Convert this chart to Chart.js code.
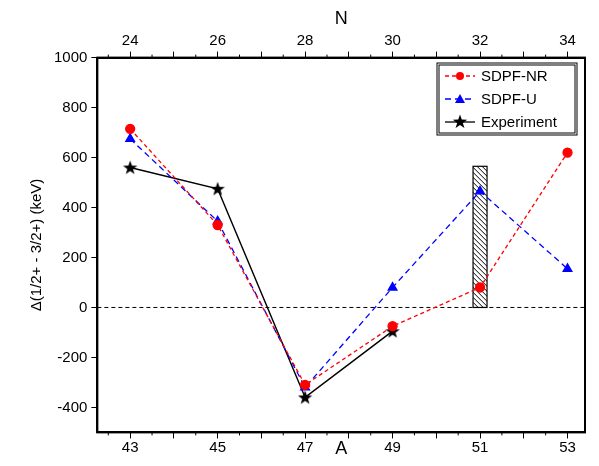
<!DOCTYPE html>
<html>
<head>
<meta charset="utf-8">
<script src="https://cdn.jsdelivr.net/npm/chart.js@4.4.0/dist/chart.umd.min.js"></script>
<style>
  html, body { margin: 0; padding: 0; background: #fff; }
  #wrap { width: 599px; height: 466px; }
</style>
</head>
<body>
<div id="wrap"><canvas id="c"></canvas></div>
<script>
const massNumbers = [43, 45, 47, 49, 51, 53];
const sdpfNR = [715, 330, -310, -75, 80, 620];
const sdpfU = [675, 345, -320, 80, 465, 155];
const experiment = [560, 475, -360, -95];
const yTicks = [-400, -200, 0, 200, 400, 600, 800, 1000];
const hatchA = 51;
const hatchRange = [0, 565];

const pts = (xs, ys) => ys.map((y, i) => ({ x: xs[i], y }));

function starPath(ctx, mx, cy, R, r) {
  ctx.beginPath();
  for (let k = 0; k < 10; k++) {
    const rr = k % 2 ? r : R, ang = -Math.PI / 2 + k * Math.PI / 5;
    ctx.lineTo(mx + rr * Math.cos(ang), cy + rr * Math.sin(ang));
  }
  ctx.closePath();
}

const starImg = document.createElement('canvas');
starImg.width = 16; starImg.height = 16;
(() => { const c = starImg.getContext('2d'); c.fillStyle = '#000'; starPath(c, 8, 8.5, 7.5, 3); c.fill(); })();

const frame = {
  id: 'frame',
  beforeDatasetsDraw(chart) {
    const { ctx, scales: { x, y } } = chart;
    const x0 = x.getPixelForValue(hatchA - 0.16), x1 = x.getPixelForValue(hatchA + 0.16);
    const y0 = y.getPixelForValue(hatchRange[1]), y1 = y.getPixelForValue(hatchRange[0]);
    ctx.save();
    ctx.beginPath(); ctx.rect(x0, y0, x1 - x0, y1 - y0); ctx.clip();
    ctx.strokeStyle = '#000'; ctx.lineWidth = 1;
    for (let k = y0 - (x1 - x0); k < y1 + 20; k += 5) {
      ctx.beginPath(); ctx.moveTo(x0, k); ctx.lineTo(x1, k + (x1 - x0)); ctx.stroke();
    }
    ctx.restore();
    ctx.save();
    ctx.strokeStyle = '#000'; ctx.lineWidth = 1.2;
    ctx.strokeRect(x0, y0, x1 - x0, y1 - y0);
    ctx.setLineDash([4, 3]); ctx.lineWidth = 1;
    ctx.beginPath();
    ctx.moveTo(x.left, y.getPixelForValue(0)); ctx.lineTo(x.right, y.getPixelForValue(0));
    ctx.stroke();
    ctx.restore();
  },
  afterDraw(chart) {
    const { ctx, chartArea: a, scales: { x } } = chart;
    ctx.save();
    ctx.strokeStyle = '#000'; ctx.lineWidth = 2;
    ctx.strokeRect(a.left, a.top, a.right - a.left, a.bottom - a.top);
    ctx.lineWidth = 1;
    for (let v = 42.5; v < 53.4; v += 0.5) {
      if (Number.isInteger(v)) continue;
      const px = x.getPixelForValue(v);
      ctx.beginPath(); ctx.moveTo(px, a.bottom); ctx.lineTo(px, a.bottom + 3);
      ctx.moveTo(px, a.top); ctx.lineTo(px, a.top - 3); ctx.stroke();
    }
    const lx = 437, ly = 63, lw = 140, lh = 72;
    ctx.strokeRect(lx, ly, lw, lh);
    ctx.strokeRect(lx + 2, ly + 2, lw - 4, lh - 4);
    const items = [
      { t: 'SDPF-NR', c: '#f00', dash: [4, 3], m: 'circle' },
      { t: 'SDPF-U', c: '#00f', dash: [6, 4], m: 'tri' },
      { t: 'Experiment', c: '#000', dash: [], m: 'star' }
    ];
    ctx.font = '15px Arial, "Liberation Sans", sans-serif';
    ctx.textBaseline = 'middle';
    items.forEach((it, i) => {
      const cy = ly + 13 + i * 23;
      ctx.strokeStyle = it.c; ctx.fillStyle = it.c; ctx.lineWidth = 1.3;
      ctx.setLineDash(it.dash);
      ctx.beginPath(); ctx.moveTo(lx + 8, cy); ctx.lineTo(lx + 38, cy); ctx.stroke();
      ctx.setLineDash([]);
      const mx = lx + 23;
      if (it.m === 'circle') { ctx.beginPath(); ctx.arc(mx, cy, 4, 0, Math.PI * 2); }
      else if (it.m === 'tri') { ctx.beginPath(); ctx.moveTo(mx, cy - 5); ctx.lineTo(mx + 5, cy + 4); ctx.lineTo(mx - 5, cy + 4); ctx.closePath(); }
      else starPath(ctx, mx, cy, 7.5, 3);
      ctx.fill();
      ctx.fillStyle = '#000';
      ctx.fillText(it.t, lx + 44, cy + 1);
    });
    ctx.restore();
  }
};

const font = { family: 'Arial, "Liberation Sans", sans-serif', size: 15 };
const axisGrid = { display: true, drawOnChartArea: false, drawTicks: true, tickLength: 6, color: '#000', lineWidth: 1 };
const xTicks = s => { s.ticks = [43, 44, 45, 46, 47, 48, 49, 50, 51, 52, 53].map(v => ({ value: v })); };

new Chart(document.getElementById('c'), {
  type: 'line',
  data: {
    datasets: [
      { label: 'SDPF-NR', data: pts(massNumbers, sdpfNR), borderColor: '#f00', backgroundColor: '#f00',
        borderDash: [4, 3], borderWidth: 1.3, pointStyle: 'circle', pointRadius: 4.5, tension: 0 },
      { label: 'SDPF-U', data: pts(massNumbers, sdpfU), borderColor: '#00f', backgroundColor: '#00f',
        borderDash: [6, 4], borderWidth: 1.3, pointStyle: 'triangle', pointRadius: 5, tension: 0 },
      { label: 'Experiment', data: pts(massNumbers, experiment), borderColor: '#000', backgroundColor: '#000',
        borderWidth: 1.5, pointStyle: starImg, tension: 0 }
    ]
  },
  options: {
    responsive: true, maintainAspectRatio: false, animation: false,
    layout: { padding: { left: 24, right: 14, top: 4, bottom: 6 } },
    plugins: { legend: { display: false }, tooltip: { enabled: false } },
    scales: {
      x: {
        type: 'linear', position: 'bottom', min: 42.25, max: 53.4,
        afterBuildTicks: xTicks,
        ticks: { color: '#000', font, padding: 0, callback: v => massNumbers.includes(v) ? v : '' },
        grid: axisGrid, border: { color: '#000', width: 2 },
        title: { display: true, text: 'A', color: '#000', font: { ...font, size: 18 }, padding: { top: -18, bottom: 0 } }
      },
      x2: {
        type: 'linear', position: 'top', min: 42.25, max: 53.4,
        afterBuildTicks: xTicks,
        ticks: { color: '#000', font, padding: 2, callback: v => massNumbers.includes(v) ? v - 19 : '' },
        grid: axisGrid, border: { color: '#000', width: 2 },
        title: { display: true, text: 'N', color: '#000', font: { ...font, size: 18 }, padding: { top: 4, bottom: 0 } }
      },
      y: {
        min: -500, max: 1000,
        afterBuildTicks: s => { s.ticks = yTicks.map(v => ({ value: v })); },
        ticks: { color: '#000', font, padding: 4, callback: v => String(v) },
        grid: axisGrid, border: { color: '#000', width: 2 },
        title: { display: true, text: '\u0394(1/2+ - 3/2+) (keV)', color: '#000', font: { ...font, size: 15 }, padding: 4 }
      }
    }
  },
  plugins: [frame]
});
</script>
</body>
</html>
